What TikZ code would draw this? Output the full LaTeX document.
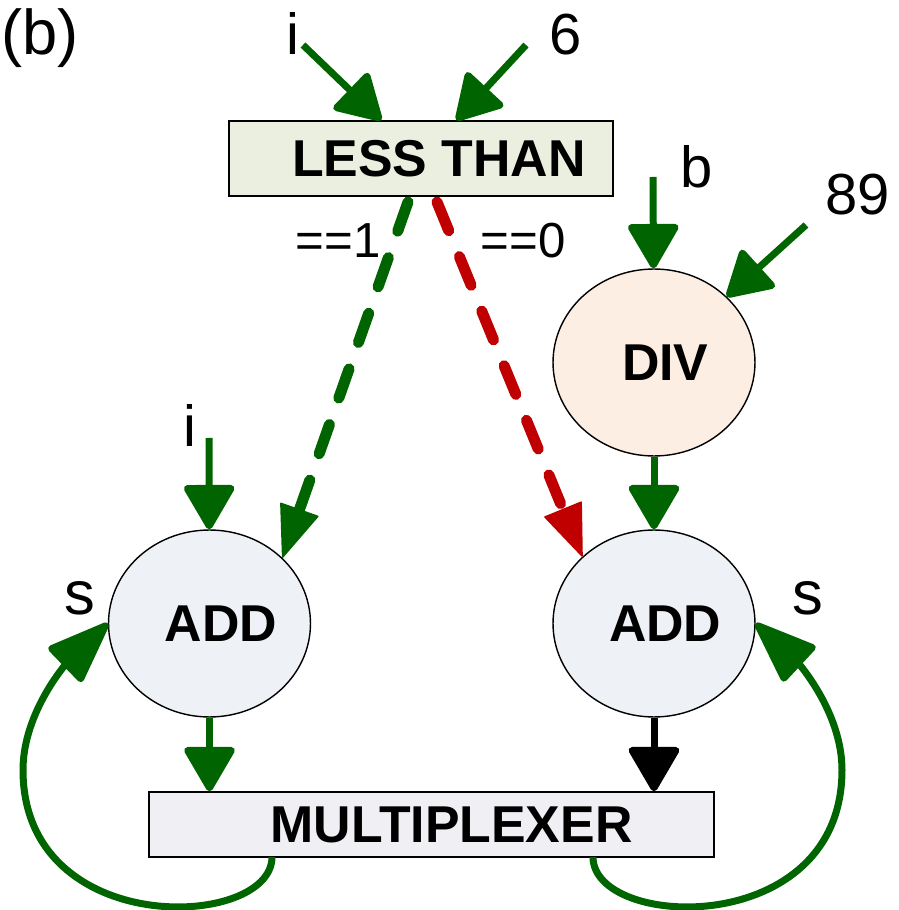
\documentclass[tikz,border=0pt]{standalone}
\usepackage{fontspec}
\setmainfont{Liberation Sans}
\usepackage{xcolor}
\definecolor{dkgreen}{HTML}{006400}
\definecolor{c00000}{HTML}{c00000}
\definecolor{ebefdf}{HTML}{ebefdf}
\definecolor{f0eff4}{HTML}{f0eff4}
\definecolor{eef1f6}{HTML}{eef1f6}
\definecolor{fceee3}{HTML}{fceee3}
\usepackage{tikz}
\usetikzlibrary{shapes.geometric}
\usetikzlibrary{arrows.meta}

\begin{document}
\begin{tikzpicture}[x=0.02cm, y=0.02cm,
        unit/.style={draw, line width=0.8pt, ellipse, minimum width=4.04cm, minimum height=3.74cm,
            inner sep=0pt, font=\fontsize{29.5}{35}\selectfont\bfseries, execute at begin node=\hspace*{0.45cm}},
        box/.style={draw, line width=0.8pt, rectangle, inner sep=0pt,
            font=\fontsize{29.5}{35}\selectfont\bfseries, execute at begin node=\hspace*{#1}},
        lbl/.style={anchor=base, font=\fontsize{33}{40}\selectfont},
        flow/.style={dkgreen, line width=0.14cm, -{Triangle[length=0.96cm, width=1.08cm, round]}},
        cond/.style={line width=0.22cm, line cap=round, dash pattern=on 0.62cm off 0.56cm,
            -{Triangle[length=1.06cm, width=0.82cm, line width=0.03cm, round]}},
        loop/.style={dkgreen, line width=0.14cm, -{Triangle[length=1.36cm, width=1cm, round]}}]
            \useasboundingbox (0, 0) rectangle (899, 910);

            % blocks
            \node[box=0.72cm, fill=ebefdf, minimum width=7.68cm, minimum height=1.5cm] (lt) at (421, 751.5) {LESS THAN};
            \node[box=0.8cm, fill=f0eff4, minimum width=11.3cm, minimum height=1.3cm] (mux) at (431.5, 85.5) {MULTIPLEXER};
            \node[unit, fill=fceee3] (div) at (654, 547.5) {DIV};
            \node[unit, fill=eef1f6] (ladd) at (209.5, 286.5) {ADD};
            \node[unit, fill=eef1f6] (radd) at (654, 286.5) {ADD};

            % labels
            \node[lbl, font=\fontsize{36}{43}\selectfont] (fig) at (40, 855) {(b)};
            \node[lbl] (ilt) at (293, 855) {i};
            \node[lbl] (six) at (566, 855) {6};
            \node[lbl] (bdiv) at (697, 722) {b};
            \node[lbl] (n89) at (858, 695) {89};
            \node[lbl, font=\fontsize{28}{34}\selectfont] (eq1) at (338, 652) {==1};
            \node[lbl, font=\fontsize{28}{34}\selectfont] (eq0) at (523, 652) {==0};
            \node[lbl] (iadd) at (190, 463) {i};
            \node[lbl, font=\fontsize{35}{42}\selectfont] (sl) at (80, 295) {s};
            \node[lbl, font=\fontsize{35}{42}\selectfont] (sr) at (808, 295) {s};

            \coordinate (i1) at (303, 865);
            \coordinate (i2) at (526, 865);
            \coordinate (bin) at (653, 733);
            \coordinate (nin) at (806, 685);
            \coordinate (iin) at (209, 472);
            \coordinate (lto) at (408, 708);
            \coordinate (rto) at (437, 708);
            \coordinate (lmx) at (272, 53);
            \coordinate (rmx) at (593, 53);
            \coordinate (lbend) at (23, 140);
            \coordinate (rbend) at (842, 140);

            % inputs
            \draw[flow] (i1) -- (lt);
            \draw[flow] (i2) -- (lt);
            \draw[flow] (bin) -- (div);
            \draw[flow] (nin) -- (div);
            \draw[flow] (iin) -- (ladd);

            % branches
            \draw[cond, dkgreen] (lto) -- (ladd.42);
            \draw[cond, c00000] (rto) -- (radd.137);
            \draw[flow] (div) -- (radd);

            % outputs
            \draw[flow] (ladd.south) -- (ladd.south |- mux.north);
            \draw[flow, black] (radd.south) -- (radd.south |- mux.north);

            % feedback of s
            \draw[loop] (lmx) .. controls (272, -20) and (23, -30) .. (lbend) .. controls (23, 200) and (70, 250) .. (ladd.west);
            \draw[loop] (rmx) .. controls (593, -20) and (842, -30) .. (rbend) .. controls (842, 200) and (795, 250) .. (radd.east);
        \end{tikzpicture}
\end{document}
